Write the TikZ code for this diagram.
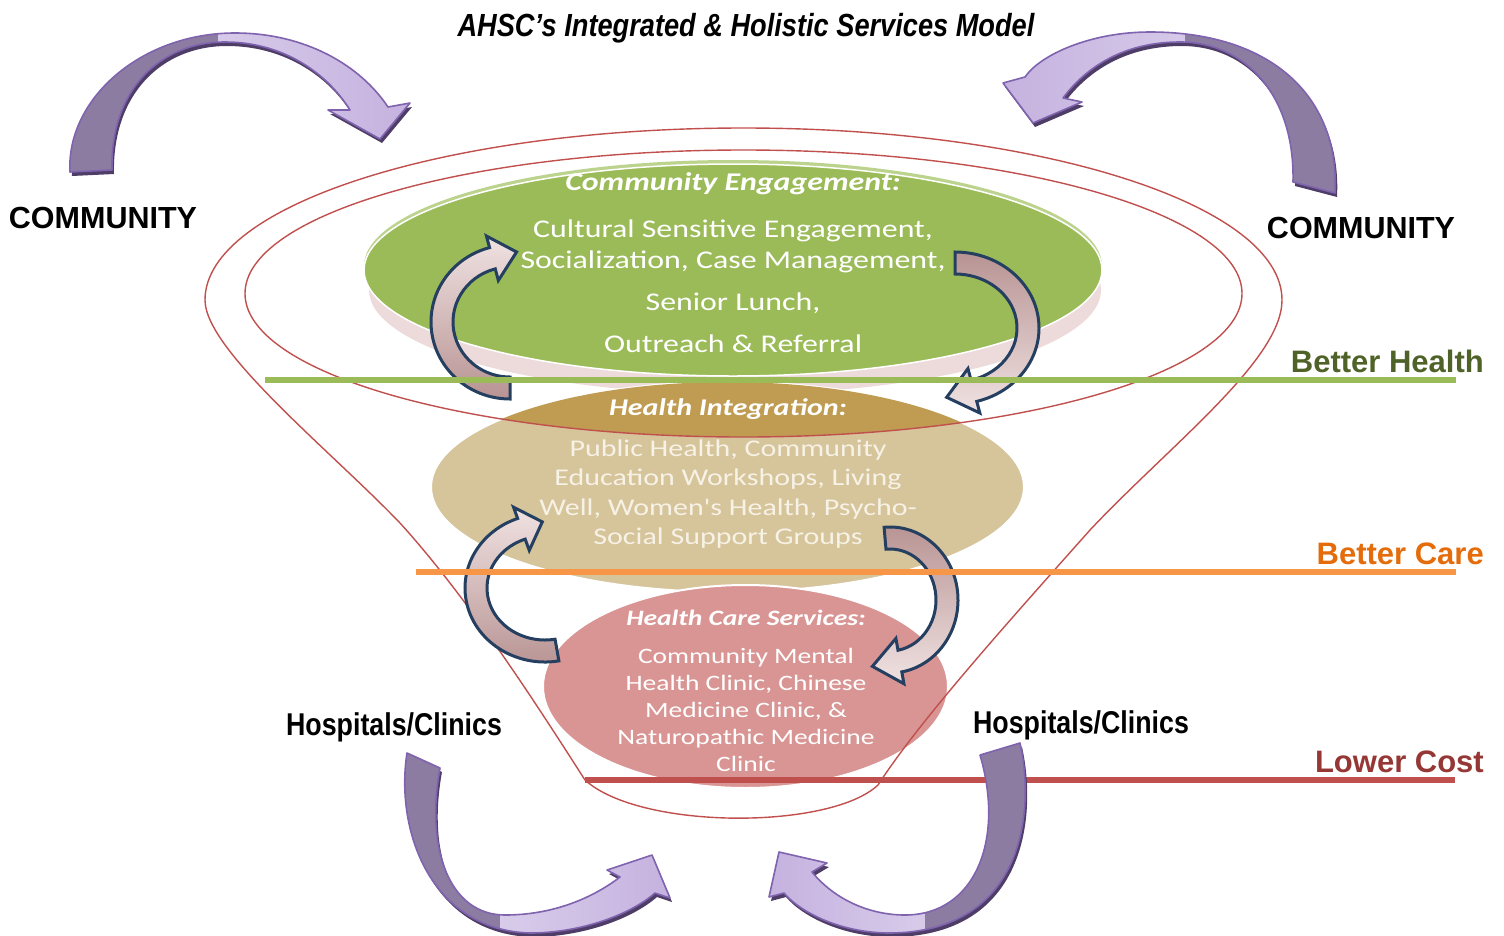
\documentclass[tikz,border=0pt]{standalone}
\usepackage{fontspec}
\setmainfont{Liberation Sans}
\newfontfamily\ovalfont[FakeStretch=1.25]{Carlito}
\newfontfamily\narrowfont[FakeStretch=0.85]{Liberation Sans}
\usetikzlibrary{calc}

\definecolor{ovalgreen}{HTML}{9BBB59}
\definecolor{rimgreen}{HTML}{BCD38E}
\definecolor{bandpink}{HTML}{EDDBDB}
\definecolor{tanlight}{HTML}{D6C49B}
\definecolor{tandark}{HTML}{BF9C52}
\definecolor{ovalpink}{HTML}{D99594}
\definecolor{funnelred}{HTML}{C0504D}
\definecolor{loopnavy}{HTML}{243F60}
\definecolor{loopmauve}{HTML}{B89393}
\definecolor{looplight}{HTML}{F0E2E2}
\definecolor{bendback}{HTML}{8D7CA2}
\definecolor{bendlight}{HTML}{E4DCF1}
\definecolor{bendhead}{HTML}{C5B2DF}
\definecolor{bendedge}{HTML}{7F63AE}
\definecolor{bendshadow}{HTML}{4E3D66}
\definecolor{healthgreen}{HTML}{4F6228}
\definecolor{careorange}{HTML}{E46C0A}
\definecolor{costred}{HTML}{953735}
\definecolor{lineorange}{HTML}{F79646}
\definecolor{tantext}{HTML}{F7F2E6}

% purple ribbon arrow: outline path, back-side region, shading
\newcommand\bendarrow[3]{%
  \fill[bendshadow, shift={(2,4)}] #1;
  \shade[#3] #1;
  \begin{scope}\clip #1; \fill[bendback] #2; \end{scope}
  \draw[bendedge, line width=1.6, line join=round] #1;
}

% navy loop arrow: shading, centre x y, radii x y, start, end angle, tip length
\newcommand\looparrow[8]{%
  \pgfmathsetmacro\rxo{#4+11}\pgfmathsetmacro\ryo{#5+11}%
  \pgfmathsetmacro\rxi{#4-11}\pgfmathsetmacro\ryi{#5-11}%
  \pgfmathsetmacro\rxh{#4+23}\pgfmathsetmacro\ryh{#5+23}%
  \pgfmathsetmacro\rxk{#4-23}\pgfmathsetmacro\ryk{#5-23}%
  \pgfmathsetmacro\tanx{-(#4)*sin(#7)}\pgfmathsetmacro\tany{(#5)*cos(#7)}%
  \pgfmathsetmacro\tipx{#8*\tanx/veclen(\tanx,\tany)}%
  \pgfmathsetmacro\tipy{#8*\tany/veclen(\tanx,\tany)}%
  \shadedraw[#1, draw=loopnavy, line width=3] ($(#2,#3)+({#6}:{\rxo} and {\ryo})$)
    arc[start angle=#6, end angle=#7, x radius=\rxo, y radius=\ryo]
    -- ($(#2,#3)+({#7}:{\rxh} and {\ryh})$)
    -- ($(#2,#3)+({#7}:{#4} and {#5})+(\tipx,\tipy)$)
    -- ($(#2,#3)+({#7}:{\rxk} and {\ryk})$)
    -- ($(#2,#3)+({#7}:{\rxi} and {\ryi})$)
    arc[start angle=#7, end angle=#6, x radius=\rxi, y radius=\ryi] -- cycle;
}

\begin{document}
\begin{tikzpicture}[x=1pt, y=-1pt,
  funnel/.style={draw=funnelred, line width=1.4},
  ovaltext/.style={text=white, align=center, inner sep=0},
  sidelabel/.style={font=\bfseries\fontsize{30.5}{36}\selectfont, inner sep=0},
  clinics/.style={font=\narrowfont\bfseries\fontsize{31.5}{36}\selectfont, inner sep=0},
  goal/.style={font=\bfseries\fontsize{31}{37}\selectfont, anchor=east, inner sep=0},
  goalline/.style={line width=6}]
\useasboundingbox (0,0) rectangle (1504,935);

\fill[bandpink] (735,290) ellipse [x radius=366, y radius=104];
\fill[rimgreen] (733,266) ellipse [x radius=369, y radius=106];
\filldraw[ovalgreen, draw=white, line width=1.5] (733,270) ellipse [x radius=369, y radius=106];
\filldraw[tanlight, draw=white, line width=2] (727.5,487) ellipse [x radius=296.5, y radius=105];
\begin{scope}
  \clip (743.5,293.5) ellipse [x radius=498.5, y radius=143.5];
  \fill[tandark] (727.5,487) ellipse [x radius=296.5, y radius=105];
\end{scope}
\filldraw[ovalpink, draw=white, line width=2] (745.5,686.5) ellipse [x radius=202.5, y radius=101.5];

\draw[funnel] (1282,300) arc[start angle=0, end angle=-180, x radius=538.5, y radius=172]
  .. controls (205,350) and (330,450) .. (400,523)
  .. controls (470,600) and (540,710) .. (585,780)
  .. controls (640,830) and (830,830) .. (878,785)
  .. controls (920,720) and (1010,620) .. (1090,530)
  .. controls (1170,445) and (1282,360) .. (1282,300);
\draw[funnel] (743.5,293.5) ellipse [x radius=498.5, y radius=143.5];

\node[ovaltext, font=\ovalfont\bfseries\itshape\fontsize{25.5}{31}\selectfont] (engageTitle) at (733,184) {Community Engagement:};
\node[ovaltext, font=\ovalfont\fontsize{25.5}{31}\selectfont] (engageText) at (733,286)
  {Cultural Sensitive Engagement,\\ Socialization, Case Management,\\[11pt] Senior Lunch,\\[11pt] Outreach \& Referral};
\node[ovaltext, font=\ovalfont\bfseries\itshape\fontsize{24}{29}\selectfont] (integTitle) at (728,409) {Health Integration:};
\node[ovaltext, text=tantext, font=\ovalfont\fontsize{24}{29.4}\selectfont] (integText) at (728,494)
  {Public Health, Community\\ Education Workshops, Living\\ Well, Women's Health, Psycho-\\ Social Support Groups};
\node[ovaltext, font=\ovalfont\bfseries\itshape\fontsize{22}{27}\selectfont] (careTitle) at (746,618) {Health Care Services:};
\node[ovaltext, font=\ovalfont\fontsize{22}{27}\selectfont] (careText) at (746,710)
  {Community Mental\\ Health Clinic, Chinese\\ Medicine Clinic, \&\\ Naturopathic Medicine\\ Clinic};

\looparrow{top color=looplight, bottom color=loopmauve}{510}{322}{68}{66}{90}{255}{25}
\looparrow{top color=loopmauve, bottom color=looplight}{955}{328}{73}{65}{270}{435}{28}
\looparrow{top color=looplight, bottom color=loopmauve}{545}{588}{69}{63}{80}{250}{22}
\looparrow{top color=loopmauve, bottom color=looplight}{890}{600}{57}{62}{265}{440}{28}

\draw[goalline, ovalgreen] (265,380) -- (1456,380);
\draw[goalline, lineorange] (416,572) -- (1456,572);
\draw[goalline, funnelred] (585,780) -- (1455,780);

\bendarrow{(70,172) .. controls (66,100) and (140,33) .. (235,33) .. controls (305,33) and (360,65) .. (388,107) -- (410,103) -- (380,139) -- (328,110) -- (350,110) .. controls (325,70) and (280,42) .. (225,42) .. controls (160,42) and (110,90) .. (112,170) -- cycle}
  {(55,20) rectangle (218,185)}{left color=bendlight, right color=bendhead}
\bendarrow{(1335,193) .. controls (1340,100) and (1275,32) .. (1150,32) .. controls (1090,32) and (1040,55) .. (1025,77) -- (1003,83) -- (1033,123) -- (1082,102) -- (1063,98) .. controls (1090,62) and (1130,42) .. (1180,42) .. controls (1245,42) and (1295,95) .. (1293,182) -- cycle}
  {(1185,20) rectangle (1350,200)}{left color=bendhead, right color=bendlight}
\bendarrow{(407,753) .. controls (395,830) and (430,930) .. (530,933) .. controls (580,933) and (630,915) .. (655,893) -- (670,898) -- (652,855) -- (607,870) -- (620,877) .. controls (590,900) and (550,915) .. (505,915) .. controls (450,915) and (425,850) .. (440,768) -- cycle}
  {(390,740) rectangle (500,940)}{left color=bendlight, right color=bendhead}
\bendarrow{(1020,743) .. controls (1035,810) and (1025,932) .. (890,933) .. controls (840,933) and (800,912) .. (784,893) -- (769,897) -- (779,852) -- (827,863) -- (812,872) .. controls (835,900) and (870,915) .. (905,915) .. controls (975,915) and (1005,840) .. (980,755) -- cycle}
  {(925,730) rectangle (1040,940)}{left color=bendhead, right color=bendlight}

\node[font=\narrowfont\bfseries\itshape\fontsize{32}{38}\selectfont, inner sep=0] (title) at (746,28) {AHSC’s Integrated \& Holistic Services Model};
\node[sidelabel] (communityL) at (103,218) {COMMUNITY};
\node[sidelabel] (communityR) at (1361,228) {COMMUNITY};
\node[clinics] (clinicsL) at (394,727) {Hospitals/Clinics};
\node[clinics] (clinicsR) at (1081,725) {Hospitals/Clinics};
\node[goal, text=healthgreen] (health) at (1484,361) {Better Health};
\node[goal, text=careorange] (care) at (1484,554) {Better Care};
\node[goal, text=costred] (cost) at (1484,762) {Lower Cost};
\end{tikzpicture}
\end{document}
